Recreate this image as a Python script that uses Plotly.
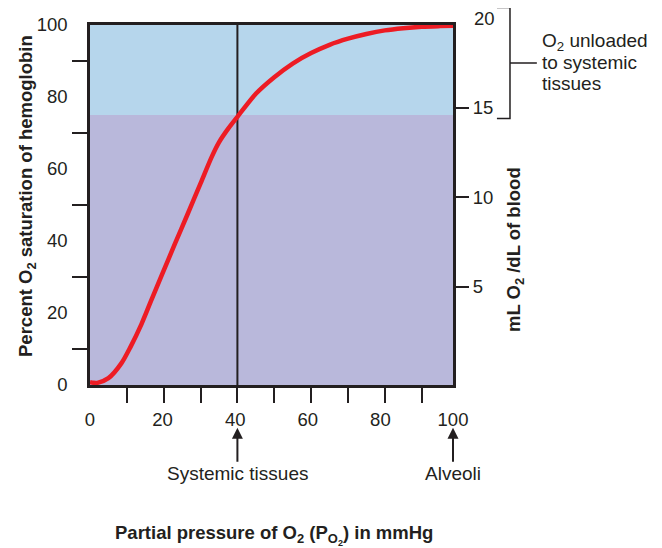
import plotly.graph_objects as go

# ---- data ----
PO2_MMHG = [0, 1, 2, 5, 8.5, 11, 14, 16.5, 19.5, 23, 26.5, 30, 33, 35, 37.5, 40,
            45, 50, 55, 60, 65, 70, 75, 80, 85, 90, 95, 98.5]
SAT_PCT = [0.8, 0.6, 0.6, 1.9, 6.0, 10.6, 17.0, 23.2, 30.6, 39.1, 47.5, 56.0, 63.3,
           67.4, 71.2, 74.5, 80.9, 85.5, 89.3, 92.2, 94.5, 96.2, 97.5, 98.5, 99.1,
           99.5, 99.7, 99.8]

SYSTEMIC_PO2 = 40
ALVEOLAR_PO2 = 100
SYSTEMIC_SAT = 75

X_LABEL_VALS = [0, 20, 40, 60, 80, 100]
X_TICK_VALS = [10, 20, 30, 40, 50, 60, 70, 80, 90]
Y_LABEL_VALS = [0, 20, 40, 60, 80, 100]
Y_TICK_VALS = [10, 30, 50, 70, 90]
CONTENT_TICK_VALS = [5, 10, 15]
UNLOADED_RANGE = [15, 20]
UNLOADED_LINES = ["O<sub>2</sub> unloaded", "to systemic", "tissues"]

# ---- styling ----
INK = "#231f20"
RED = "#ED1C24"
BLUE_BG = "#B6D6EC"
LAV_BG = "#B9B8DB"
FONT = "Liberation Sans, Arial, sans-serif"
TICK_SIZE = 18.5
TEXT_SIZE = 19
TITLE_SIZE = 18.5

Y2_RANGE = [-0.49, 19.62]


def y2_paper(v):
    return (v - Y2_RANGE[0]) / (Y2_RANGE[1] - Y2_RANGE[0])


fig = go.Figure()

fig.add_trace(go.Scatter(
    x=PO2_MMHG, y=SAT_PCT, mode="lines",
    line=dict(color=RED, width=4.5, shape="spline", smoothing=0.8),
    cliponaxis=False, showlegend=False, hoverinfo="skip",
))
# empty traces so the overlay axes exist
fig.add_trace(go.Scatter(x=[], y=[], xaxis="x2", yaxis="y", showlegend=False))
fig.add_trace(go.Scatter(x=[], y=[], xaxis="x", yaxis="y2", showlegend=False))

# background bands
fig.add_shape(type="rect", xref="x domain", yref="y", x0=0, x1=1,
              y0=SYSTEMIC_SAT, y1=max(Y_LABEL_VALS), fillcolor=BLUE_BG,
              line_width=0, layer="below")
fig.add_shape(type="rect", xref="x domain", yref="y", x0=0, x1=1,
              y0=min(Y_LABEL_VALS), y1=SYSTEMIC_SAT, fillcolor=LAV_BG,
              line_width=0, layer="below")
fig.add_vline(x=SYSTEMIC_PO2, line_color=INK, line_width=2, layer="below")

# bracket for O2 unloaded (right scale)
pad = 0.6
lo, hi = UNLOADED_RANGE
mid = (lo + hi) / 2
bx0, bx1, bx2 = 1.121, 1.157, 1.231
pt, pb, pm = y2_paper(hi + pad), y2_paper(lo - pad), y2_paper(mid)
fig.add_shape(type="path", xref="paper", yref="paper",
              path=f"M {bx0},{pt} L {bx1},{pt} L {bx1},{pb} L {bx0},{pb} "
                   f"M {bx1},{pm} L {bx2},{pm}",
              line=dict(color=INK, width=1.5))

ann = []
ann.append(dict(text=str(hi), xref="paper", x=1.052, xanchor="left",
                yref="paper", y=y2_paper(hi), yanchor="middle", showarrow=False,
                font=dict(size=TICK_SIZE, color=INK)))
line_step = 0.057
for i, line in enumerate(UNLOADED_LINES):
    ann.append(dict(text=line, xref="paper", x=1.240, xanchor="left",
                    yref="paper", y=pm + line_step * (1 - i), yanchor="middle",
                    align="left", showarrow=False,
                    font=dict(size=TEXT_SIZE, color=INK)))
ann.append(dict(text="<b>Percent O<sub>2</sub> saturation of hemoglobin</b>",
                xref="paper", x=-0.1736, xanchor="center", yref="paper", y=0.525,
                yanchor="middle", textangle=-90,
                showarrow=False, font=dict(size=TITLE_SIZE, color=INK)))
ann.append(dict(text="<b>mL O<sub>2</sub> /dL of blood</b>",
                xref="paper", x=1.171, xanchor="center", yref="paper", y=0.375,
                yanchor="middle", textangle=-90,
                showarrow=False, font=dict(size=TITLE_SIZE, color=INK)))
ann.append(dict(text="<b>Partial pressure of O<sub>2</sub> (P<sub>O<sub>2</sub></sub>) in mmHg</b>",
                xref="paper", x=0.507, xanchor="center", yref="paper", y=-0.417,
                yanchor="middle", showarrow=False,
                font=dict(size=TITLE_SIZE, color=INK)))
ann.append(dict(text="Systemic tissues", xref="x", x=SYSTEMIC_PO2,
                yref="paper", y=-0.119, ax=0, ay=46, showarrow=True,
                arrowhead=2, arrowsize=1.1, arrowwidth=2, arrowcolor=INK,
                font=dict(size=TEXT_SIZE, color=INK)))
ann.append(dict(text="Alveoli", xref="x2", x=ALVEOLAR_PO2,
                yref="paper", y=-0.119, ax=0, ay=46, showarrow=True,
                arrowhead=2, arrowsize=1.1, arrowwidth=2, arrowcolor=INK,
                font=dict(size=TEXT_SIZE, color=INK)))

fig.update_layout(
    width=654, height=540,
    margin=dict(l=82, r=209, t=17, b=163, autoexpand=False),
    paper_bgcolor="white", plot_bgcolor=LAV_BG,
    font=dict(family=FONT, color=INK, size=TEXT_SIZE),
    showlegend=False,
    annotations=ann,
    xaxis=dict(range=[0, 98.5], tickmode="array", tickvals=X_TICK_VALS,
               ticks="outside", ticklen=15, tickwidth=2, tickcolor=INK,
               showticklabels=False, showline=True, mirror=True,
               linecolor=INK, linewidth=2.5, showgrid=False, zeroline=False),
    xaxis2=dict(overlaying="x", anchor="y", side="bottom", range=[0, 100],
                tickmode="array", tickvals=X_LABEL_VALS,
                ticks="outside", ticklen=18, tickcolor="rgba(0,0,0,0)",
                tickfont=dict(size=TICK_SIZE, color=INK), showline=False,
                showgrid=False, zeroline=False),
    yaxis=dict(range=[0, 100], tickmode="array", tickvals=Y_LABEL_VALS,
               ticks="outside", ticklen=16, tickcolor="rgba(0,0,0,0)",
               tickfont=dict(size=TICK_SIZE, color=INK),
               minor=dict(tickmode="array", tickvals=Y_TICK_VALS, ticks="outside",
                          ticklen=15, tickwidth=2, tickcolor=INK, showgrid=False),
               showline=True, mirror=True, linecolor=INK, linewidth=2.5,
               showgrid=False, zeroline=False),
    yaxis2=dict(overlaying="y", anchor="x", side="right", range=Y2_RANGE,
                tickmode="array", tickvals=CONTENT_TICK_VALS, ticks="outside",
                ticklen=15, tickwidth=2, tickcolor=INK,
                tickfont=dict(size=TICK_SIZE, color=INK), showline=False,
                showgrid=False, zeroline=False),
)

fig.write_html("out.html")
